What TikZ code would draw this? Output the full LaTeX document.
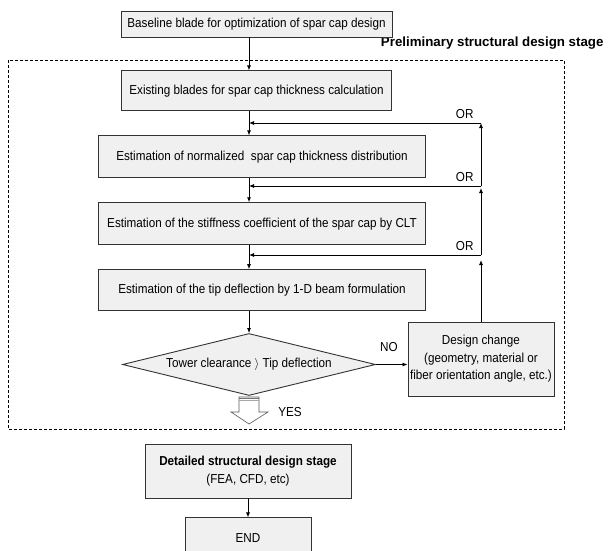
\documentclass[tikz,border=0pt]{standalone}
\usepackage{fontspec}
\setmainfont{Liberation Sans}[FakeStretch=0.9]
\newfontfamily\stagefont{Liberation Sans}
\usetikzlibrary{arrows.meta,positioning,shapes.geometric}
\definecolor{boxFill}{HTML}{F0F0F0}
\definecolor{boxLine}{HTML}{333333}

\begin{document}
\begin{tikzpicture}[
  x=1pt, y=1pt,
  font=\fontsize{13}{17.5}\selectfont,
  box/.style={draw=boxLine, fill=boxFill, line width=0.9pt, align=center, inner sep=2pt, minimum height=26pt},
  decbox/.style={diamond, aspect=4.08, draw=boxLine, fill=boxFill, line width=0.9pt, inner sep=0pt, minimum width=253pt, minimum height=62pt},
  arrow/.style={-{Latex[length=5pt,width=4pt]}, line width=0.8pt},
  frame/.style={line width=0.9pt, dash pattern=on 3pt off 2pt},
]
\useasboundingbox (0,0) rectangle (608,-551);

\draw[frame] (8,-60) rectangle (564,-429);
\node[font=\stagefont\fontsize{13.3}{15}\selectfont\bfseries, anchor=east] (stage) at (607,-43) {Preliminary structural design stage};

\node[box, minimum width=271pt, minimum height=26pt] (base) at (256.5,-24) {Baseline blade for optimization of spar cap design};
\node[box, minimum width=270pt, minimum height=40pt, below=33pt of base] (exist) {Existing blades for spar cap thickness calculation};
\node[box, minimum width=327pt, minimum height=42pt, below=24pt of exist, xshift=5.5pt] (norm) {Estimation of normalized\ \ spar cap thickness distribution};
\node[box, minimum width=327pt, minimum height=42pt, below=24pt of norm] (stiff) {Estimation of the stiffness coefficient of the spar cap by CLT};
\node[box, minimum width=327pt, minimum height=41pt, below=24pt of stiff] (tip) {Estimation of the tip deflection by 1-D beam formulation};
\node[decbox, below=22pt of tip, xshift=-13pt] (check) {Tower clearance $\rangle$ Tip deflection};
\node[box, minimum width=146pt, minimum height=74pt] (change) at (481,-359) {Design change\\(geometry, material or\\fiber orientation angle, etc.)};
\node[box, minimum width=206pt, minimum height=54pt] (detail) at (248,-471) {\textbf{Detailed structural design stage}\\(FEA, CFD, etc)};
\node[box, minimum width=126pt, minimum height=40pt, below=19pt of detail] (finish) {END};

\draw[arrow] (base.south -| check.north) -- (exist.north -| check.north);
\draw[arrow] (exist.south -| check.north) -- (norm.north -| check.north);
\draw[arrow] (norm.south -| check.north) -- (stiff.north -| check.north);
\draw[arrow] (stiff.south -| check.north) -- (tip.north -| check.north);
\draw[arrow] (tip.south -| check.north) -- (check.north);
\draw[arrow] (check.east) -- (check.east -| change.west);
\node (no) at (389,-347) {NO};

% loops back from the design change
\coordinate (or1) at (481,-123);
\coordinate (or2) at (481,-186);
\coordinate (or3) at (481,-255);
\draw[arrow] (change.north) -- ([yshift=-5pt]or3);
\draw[arrow] (or3) -- (or3 -| check.north);
\draw[arrow] (or3) -- ([yshift=-2pt]or2);
\draw[arrow] (or2) -- (or2 -| check.north);
\draw[arrow] (or2) -- (or1);
\draw[arrow] (or1) -- (or1 -| check.north);
\node[above left=1pt and 4pt of or1] (or1txt) {OR};
\node[above left=1pt and 4pt of or2] (or2txt) {OR};
\node[above left=1pt and 4pt of or3] (or3txt) {OR};

% hollow YES arrow
\draw[draw=black!65, fill=white, line width=0.6pt] (239,-397) -- (259,-397) -- (259,-412) -- (268,-412) -- (249,-424) -- (231,-412) -- (239,-412) -- cycle;
\draw[black!55, line width=1pt] (239,-398) -- (259,-398);
\draw[black!35, line width=1pt] (239,-400) -- (259,-400);
\node (yes) at (290,-412) {YES};

\draw[arrow] (detail) -- (finish);
\end{tikzpicture}
\end{document}
